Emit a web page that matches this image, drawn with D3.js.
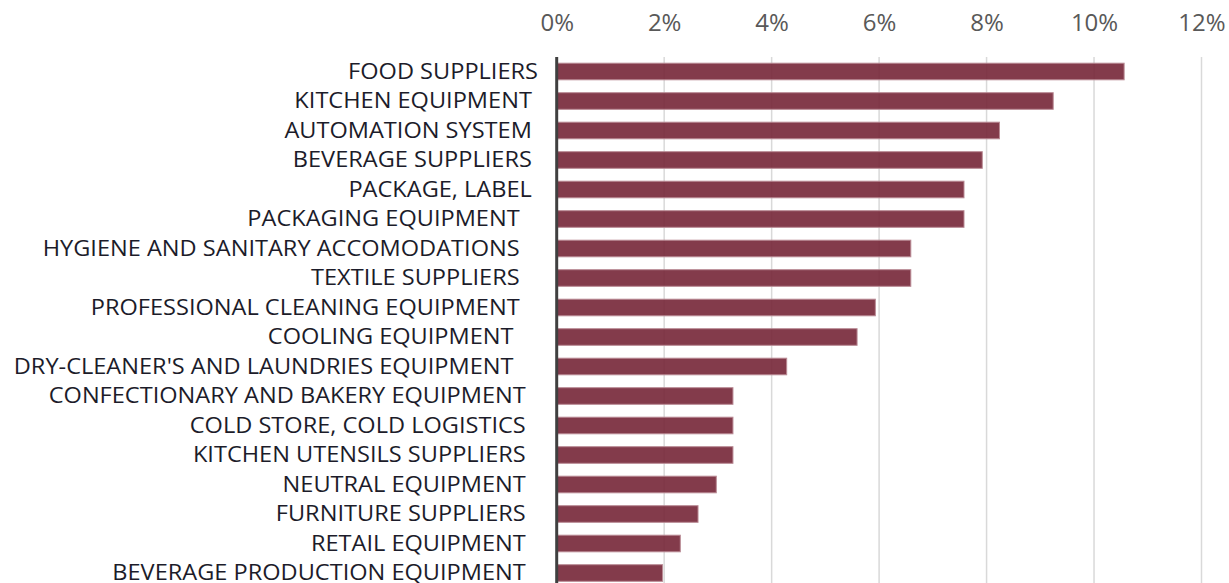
<!DOCTYPE html>
<html>
<head>
<meta charset="utf-8">
<script src="https://d3js.org/d3.v7.min.js"></script>
<style>
  body { margin: 0; background: #fff; }
  svg { display: block; }
  .cat { white-space: pre; }
</style>
</head>
<body>
<svg id="chart"></svg>
<script>
var categories = [
  "FOOD SUPPLIERS",
  "KITCHEN EQUIPMENT ",
  "AUTOMATION SYSTEM ",
  "BEVERAGE SUPPLIERS ",
  "PACKAGE, LABEL ",
  "PACKAGING EQUIPMENT   ",
  "HYGIENE AND SANITARY ACCOMODATIONS   ",
  "TEXTILE SUPPLIERS   ",
  "PROFESSIONAL CLEANING EQUIPMENT   ",
  "COOLING EQUIPMENT    ",
  "DRY-CLEANER'S AND LAUNDRIES EQUIPMENT    ",
  "CONFECTIONARY AND BAKERY EQUIPMENT  ",
  "COLD STORE, COLD LOGISTICS  ",
  "KITCHEN UTENSILS SUPPLIERS  ",
  "NEUTRAL EQUIPMENT  ",
  "FURNITURE SUPPLIERS  ",
  "RETAIL EQUIPMENT  ",
  "BEVERAGE PRODUCTION EQUIPMENT  "
];

var values = [10.56, 9.24, 8.24, 7.92, 7.58, 7.58, 6.59, 6.59, 5.93, 5.59,
              4.28, 3.28, 3.28, 3.28, 2.97, 2.63, 2.30, 1.97];

var ticks = [0, 2, 4, 6, 8, 10, 12];

var width = 1229, height = 583;
var font = "'Open Sans', Lato, sans-serif";

var svg = d3.select("#chart").attr("width", width).attr("height", height);

var x = d3.scaleLinear().domain([0, 12]).range([556.7, 1201.5]);

var y = d3.scaleBand()
    .domain(categories)
    .range([57, 587.5])
    .paddingInner(0.437)
    .paddingOuter(0.21);

// gridlines
svg.append("g").selectAll("line").data(ticks.slice(1)).enter()
  .append("line")
  .attr("x1", function(d) { return x(d); })
  .attr("x2", function(d) { return x(d); })
  .attr("y1", 57)
  .attr("y2", height)
  .style("stroke", "#d9d9d9")
  .style("stroke-width", 1.5);

// top axis labels
var xAxis = d3.axisTop(x)
    .tickValues(ticks)
    .tickSize(0)
    .tickPadding(0)
    .tickFormat(function(d) { return d + "%"; });

var ax = svg.append("g").attr("transform", "translate(0,31)").call(xAxis);
ax.select(".domain").remove();
ax.selectAll("text")
  .attr("dy", 0)
  .style("font-family", font)
  .style("font-size", "24px")
  .style("fill", "#595959");

// bars
svg.append("g").selectAll("rect").data(values).enter()
  .append("rect")
  .attr("x", x(0))
  .attr("y", function(d, i) { return y(categories[i]); })
  .attr("width", function(d) { return x(d) - x(0); })
  .attr("height", y.bandwidth())
  .style("fill", "#762637")
  .style("fill-opacity", 0.9)
  .style("stroke", "#b98a94")
  .style("stroke-width", 1);

// category labels, stretched a little wider like the original
var lab = svg.append("g");
lab.selectAll("text").data(categories).enter()
  .append("text")
  .attr("class", "cat")
  .attr("x", 0)
  .attr("y", function(d) { return y(d) + y.bandwidth() / 2 + 7.5; })
  .attr("text-anchor", "end")
  .style("font-family", font)
  .style("font-size", "21px")
  .style("font-weight", 500)
  .style("fill", "#1c1c2a")
  .text(function(d) { return d; });

var w = lab.select("text").node().getComputedTextLength();
var sx = 190 / w;
lab.attr("transform", "translate(538,0) scale(" + sx + ",1)");

// vertical axis line
svg.append("line")
  .attr("x1", x(0))
  .attr("x2", x(0))
  .attr("y1", 57)
  .attr("y2", height)
  .style("stroke", "#404040")
  .style("stroke-width", 3);
</script>
</body>
</html>
